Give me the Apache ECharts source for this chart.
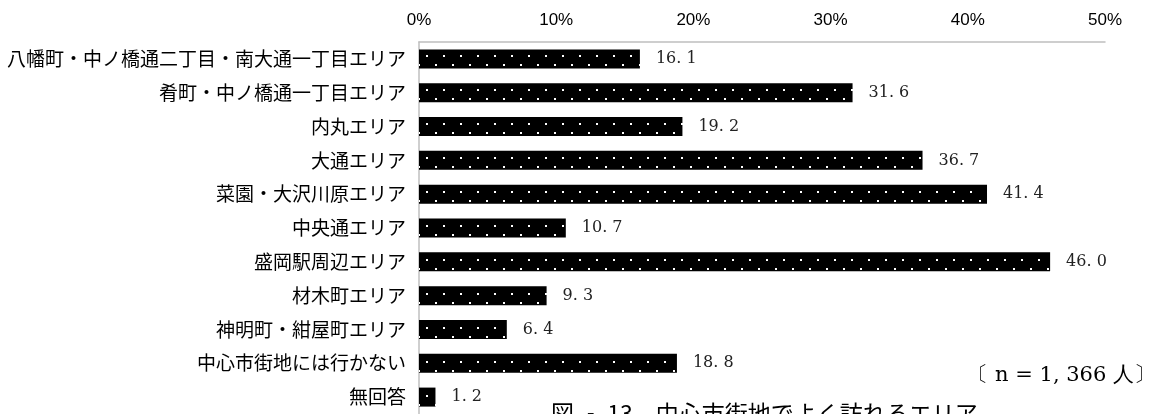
<!DOCTYPE html>
<html>
<head>
<meta charset="utf-8">
<script src="https://cdn.jsdelivr.net/npm/echarts@6/dist/echarts.min.js"></script>
<style>
html,body{margin:0;padding:0;background:#fff;}
#chart{width:1162px;height:414px;}
</style>
</head>
<body>
<div id="chart"></div>
<script>
// Areas of the central city district visited often (multiple answers, %)
const categories = [
  '八幡町・中ノ橋通二丁目・南大通一丁目エリア',
  '肴町・中ノ橋通一丁目エリア',
  '内丸エリア',
  '大通エリア',
  '菜園・大沢川原エリア',
  '中央通エリア',
  '盛岡駅周辺エリア',
  '材木町エリア',
  '神明町・紺屋町エリア',
  '中心市街地には行かない',
  '無回答'
];
const values = [16.1, 31.6, 19.2, 36.7, 41.4, 10.7, 46.0, 9.3, 6.4, 18.8, 1.2];
const tickLabels = ['0%', '10%', '20%', '30%', '40%', '50%'];
const sampleNote = '〔 n = 1, 366 人〕';
const caption = '図 ‐ 13　中心市街地でよく訪れるエリア';

// Black fill sprinkled with small white dots, two staggered rows per bar
function dotPattern() {
  const c = document.createElement('canvas');
  c.width = 17; c.height = 34;
  const g = c.getContext('2d');
  g.fillStyle = '#000';
  g.fillRect(0, 0, 17, 34);
  g.fillStyle = '#fff';
  g.fillRect(1, 21, 2, 2);
  g.fillRect(10, 30, 2, 2);
  return c;
}

const chart = echarts.init(document.getElementById('chart'), null, {renderer: 'canvas'});
const gridTop = 42, band = 34;

chart.setOption({
  backgroundColor: '#fff',
  animation: false,
  grid: {left: 419, right: 57, top: gridTop, height: band * categories.length, containLabel: false},
  xAxis: {
    type: 'value', position: 'top', min: 0, max: 50, interval: 10,
    axisLine: {show: true, lineStyle: {color: '#bfbfbf', width: 1.5}},
    axisTick: {show: false},
    splitLine: {show: false},
    axisLabel: {
      margin: 13, color: '#000', fontSize: 17,
      fontFamily: '"Liberation Sans Narrow", "Liberation Sans", sans-serif',
      formatter: (v) => tickLabels[Math.round(v / 10)]
    }
  },
  yAxis: {
    type: 'category', inverse: true, data: categories,
    axisLine: {show: true, lineStyle: {color: '#bfbfbf', width: 1.5}},
    axisTick: {show: false},
    axisLabel: {
      margin: 13, color: '#000', fontSize: 19,
      fontFamily: 'Noto Sans CJK JP'
    }
  },
  series: [{
    type: 'bar',
    data: values,
    barWidth: 19,
    itemStyle: {color: {image: dotPattern(), repeat: 'repeat'}},
    label: {
      show: true, position: 'right', distance: 16,
      color: '#222', fontSize: 16,
      fontFamily: 'DejaVu Serif',
      formatter: (p) => p.value.toFixed(1).replace('.', '. ')
    }
  }],
  graphic: [
    {
      type: 'text', right: 7, top: 365,
      style: {text: sampleNote, fill: '#000', fontSize: 21,
        fontFamily: 'DejaVu Serif'}
    },
    {
      type: 'text', left: 551, top: 402,
      style: {text: caption, fill: '#000', fontSize: 23,
        fontFamily: 'Noto Sans CJK JP'}
    }
  ]
});
</script>
</body>
</html>
